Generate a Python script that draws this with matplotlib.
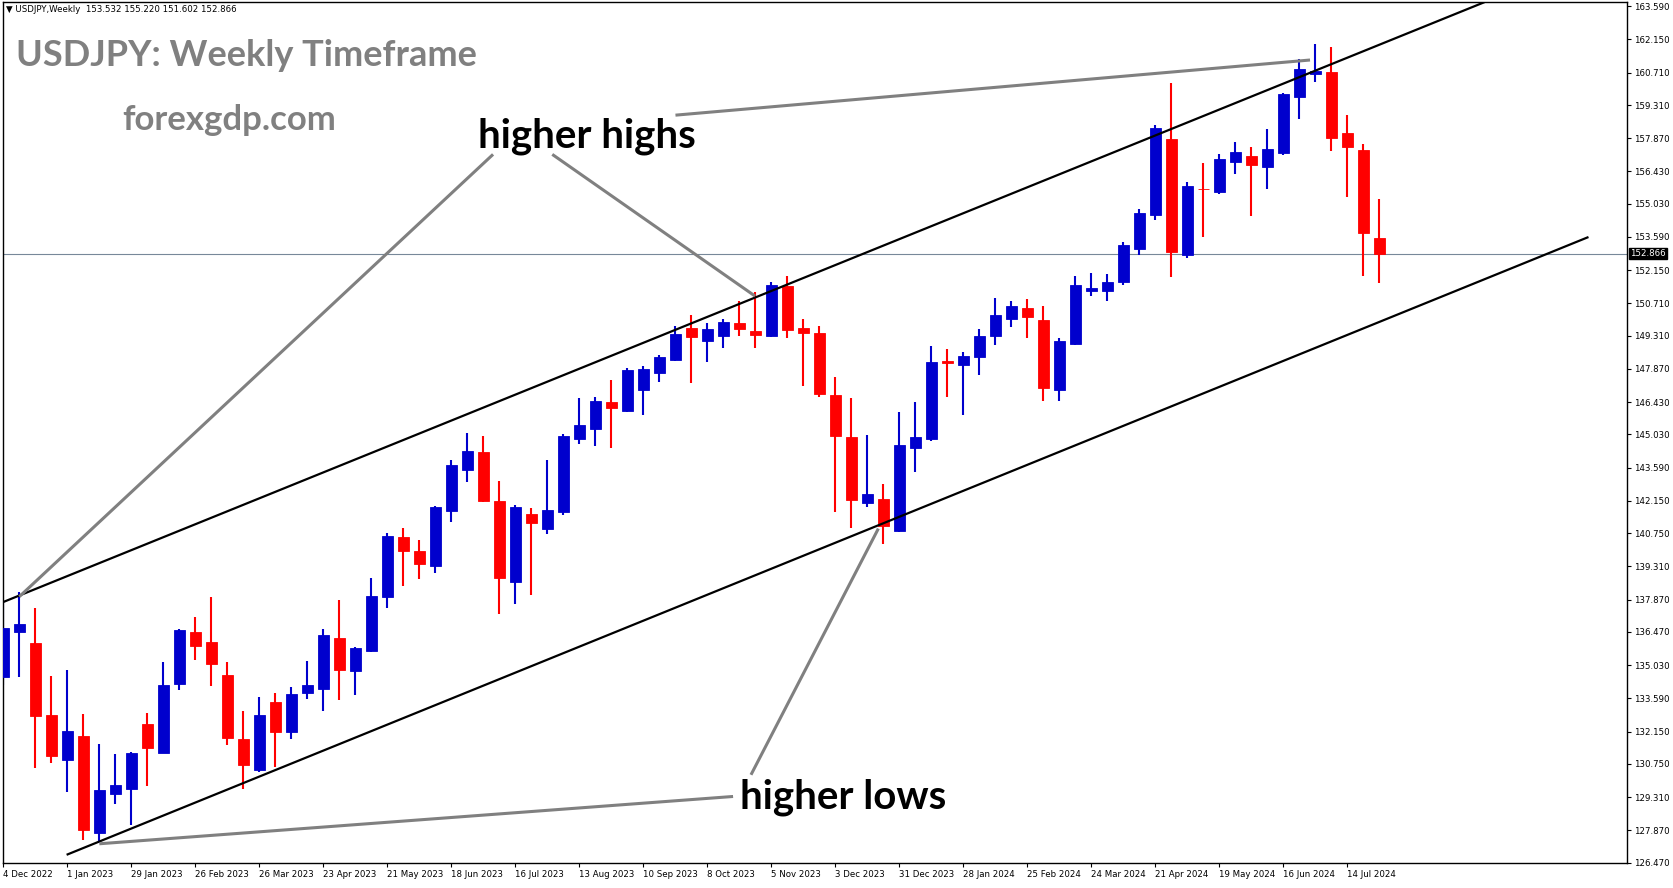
import numpy as np
import matplotlib
matplotlib.use("Agg")
import matplotlib.pyplot as plt

# weekly OHLC, 4 Dec 2022 .. 28 Jul 2024
opens = [134.52, 136.47, 135.98, 132.87, 130.94, 131.96, 127.77, 129.45, 129.68, 132.48,
         131.22, 134.21, 136.45, 136.02, 134.59, 131.83, 130.50, 133.43, 132.15, 133.83,
         134.00, 136.19, 134.78, 135.65, 137.97, 140.60, 140.00, 139.32, 141.70, 143.47,
         144.27, 142.16, 138.63, 141.60, 140.92, 141.65, 144.85, 145.28, 146.44, 146.06,
         146.97, 147.70, 148.25, 149.63, 149.09, 149.29, 149.85, 149.50, 149.29, 151.45,
         149.63, 149.42, 146.74, 144.92, 142.04, 142.24, 140.83, 144.45, 144.84, 148.21,
         148.03, 148.38, 149.29, 150.02, 150.50, 149.98, 146.97, 148.94, 151.25, 151.23,
         151.62, 153.05, 154.56, 157.84, 152.83, 155.68, 155.55, 156.85, 157.11, 156.63,
         157.24, 159.66, 160.65, 160.74, 158.10, 157.37, 153.532]
highs = [137.85, 138.21, 137.53, 134.55, 134.81, 132.91, 131.61, 131.18, 131.27, 132.95,
         135.16, 136.58, 137.14, 137.97, 135.16, 133.04, 133.64, 133.82, 134.08, 135.20,
         136.58, 137.84, 135.80, 138.79, 140.77, 140.99, 140.47, 141.94, 143.93, 145.10,
         144.97, 143.02, 141.98, 141.85, 143.93, 145.05, 146.61, 146.65, 147.39, 147.90,
         147.99, 148.47, 149.72, 150.20, 149.85, 150.02, 150.80, 151.20, 151.62, 151.92,
         150.02, 149.72, 147.52, 146.61, 145.01, 142.89, 146.00, 146.44, 148.86, 148.73,
         148.60, 149.59, 150.93, 150.80, 150.89, 150.58, 149.20, 151.88, 152.01, 151.97,
         153.39, 154.82, 158.45, 160.26, 155.99, 156.81, 157.20, 157.71, 157.50, 158.28,
         159.83, 161.30, 161.95, 161.82, 158.88, 157.63, 155.220]
lows = [134.15, 134.52, 130.58, 130.81, 129.54, 127.46, 127.33, 129.02, 128.11, 129.80,
        131.22, 133.95, 135.24, 134.13, 131.58, 129.68, 130.40, 130.63, 131.84, 133.57,
        133.05, 133.53, 133.74, 135.62, 137.49, 138.45, 138.76, 139.02, 141.22, 142.95,
        142.09, 137.23, 137.68, 138.07, 140.70, 141.52, 144.63, 144.55, 144.46, 146.02,
        145.89, 147.31, 148.21, 147.26, 148.16, 148.77, 149.29, 148.77, 149.25, 149.20,
        147.13, 146.65, 141.65, 140.96, 141.87, 140.27, 140.80, 143.42, 144.75, 146.65,
        145.87, 147.60, 148.90, 149.68, 149.20, 146.49, 146.49, 148.90, 151.02, 150.80,
        151.53, 152.79, 154.34, 151.84, 152.70, 153.57, 155.47, 156.33, 154.52, 155.68,
        157.15, 158.71, 160.31, 157.33, 155.34, 151.92, 151.602]
closes = [136.63, 136.80, 132.84, 131.11, 132.17, 127.87, 129.62, 129.84, 131.22, 131.44,
          134.16, 136.54, 135.85, 135.08, 131.89, 130.72, 132.87, 132.15, 133.77, 134.16,
          136.32, 134.82, 135.76, 138.01, 140.64, 139.97, 139.41, 141.90, 143.71, 144.32,
          142.13, 138.80, 141.90, 141.18, 141.77, 144.97, 145.44, 146.48, 146.19, 147.82,
          147.86, 148.38, 149.37, 149.26, 149.59, 149.89, 149.59, 149.33, 151.53, 149.55,
          149.43, 146.78, 144.98, 142.17, 142.46, 141.05, 144.58, 144.92, 148.16, 148.14,
          148.42, 149.29, 150.20, 150.58, 150.11, 147.05, 149.07, 151.49, 151.36, 151.62,
          153.26, 154.65, 158.32, 152.92, 155.81, 155.66, 156.98, 157.28, 156.72, 157.41,
          159.79, 160.87, 160.78, 157.89, 157.50, 153.75, 152.866]

date_labels = ["4 Dec 2022", "1 Jan 2023", "29 Jan 2023", "26 Feb 2023", "26 Mar 2023",
               "23 Apr 2023", "21 May 2023", "18 Jun 2023", "16 Jul 2023", "13 Aug 2023",
               "10 Sep 2023", "8 Oct 2023", "5 Nov 2023", "3 Dec 2023", "31 Dec 2023",
               "28 Jan 2024", "25 Feb 2024", "24 Mar 2024", "21 Apr 2024", "19 May 2024",
               "16 Jun 2024", "14 Jul 2024"]
price_ticks = [163.59, 162.15, 160.71, 159.31, 157.87, 156.43, 155.03, 153.59, 152.15,
               150.71, 149.31, 147.87, 146.43, 145.03, 143.59, 142.15, 140.75, 139.31,
               137.87, 136.47, 135.03, 133.59, 132.15, 130.75, 129.31, 127.87, 126.47]
last_price = 152.866

# channel lines and the annotation pointers (candle index, price)
upper_line = ([-0.22, 92.5], [137.71, 163.75])
lower_line = ([4.01, 99.0], [126.83, 153.57])
pointers = [([30.6, 0.99], [157.17, 138.0]),
            ([34.3, 46.97], [157.17, 151.03]),
            ([42.0, 81.66], [158.87, 161.26]),
            ([45.6, 5.99], [129.34, 127.29]),
            ([46.72, 54.68], [130.28, 140.95])]

o = np.array(opens)
c = np.array(closes)
x = np.arange(len(opens))
up = c >= o
col = np.where(up, "#0000cd", "#ff0000")

fig = plt.figure(figsize=(16.73, 8.88), dpi=100)
ax = fig.add_axes([0.0016, 0.0285, 0.9707, 0.969])

ax.vlines(x, lows, highs, colors=col, linewidth=1.5, zorder=2)
ax.bar(x, np.abs(c - o), bottom=np.minimum(o, c), width=0.69, color=col,
       edgecolor=col, linewidth=0.6, zorder=3)

ax.axhline(last_price, color="#778899", linewidth=0.8, zorder=1)

ax.plot(*upper_line, color="black", linewidth=1.6, zorder=4)
ax.plot(*lower_line, color="black", linewidth=1.6, zorder=4)
for px, py in pointers:
    ax.plot(px, py, color="#808080", linewidth=2.2, zorder=4, solid_capstyle="butt")

ax.text(36.46, 157.95, "higher highs", fontsize=29, fontweight="bold", family="Lato",
        ha="center", va="center", zorder=5)
ax.text(52.46, 129.3, "higher lows", fontsize=29, fontweight="bold", family="Lato",
        ha="center", va="center", zorder=5)

fig.text(16 / 1673, 1 - 56 / 888, "USDJPY: Weekly Timeframe", fontsize=26, fontweight="bold",
         family="Lato", color="#808080", ha="left", va="center")
fig.text(122 / 1673, 1 - 120 / 888, "forexgdp.com", fontsize=25, fontweight="bold",
         family="Lato", color="#808080", ha="left", va="center")
fig.text(6 / 1673, 1 - 10 / 888, "\u25bc USDJPY,Weekly  153.532 155.220 151.602 152.866",
         fontsize=6.2, ha="left", va="center")

ax.set_xlim(-0.05, 101.45)
ax.set_ylim(126.56, 163.765)

ax.yaxis.tick_right()
ax.set_yticks(price_ticks)
ax.set_yticklabels([f"{p:.3f}" for p in price_ticks])
ax.tick_params(axis="y", direction="out", length=3, width=0.8, labelsize=6.2, pad=2)
ax.text(1.002, last_price, f"{last_price:.3f}", transform=ax.get_yaxis_transform(),
        fontsize=6.2, color="white", ha="left", va="center",
        bbox=dict(boxstyle="square,pad=0.15", facecolor="black", edgecolor="black"))

ax.set_xticks(np.arange(0, 85, 4))
ax.set_xticklabels(date_labels, ha="left")
ax.tick_params(axis="x", direction="out", length=3, width=0.8, labelsize=6.2, pad=2)

for s in ax.spines.values():
    s.set_linewidth(1.0)

fig.savefig("out.png", dpi=100, facecolor="white")
